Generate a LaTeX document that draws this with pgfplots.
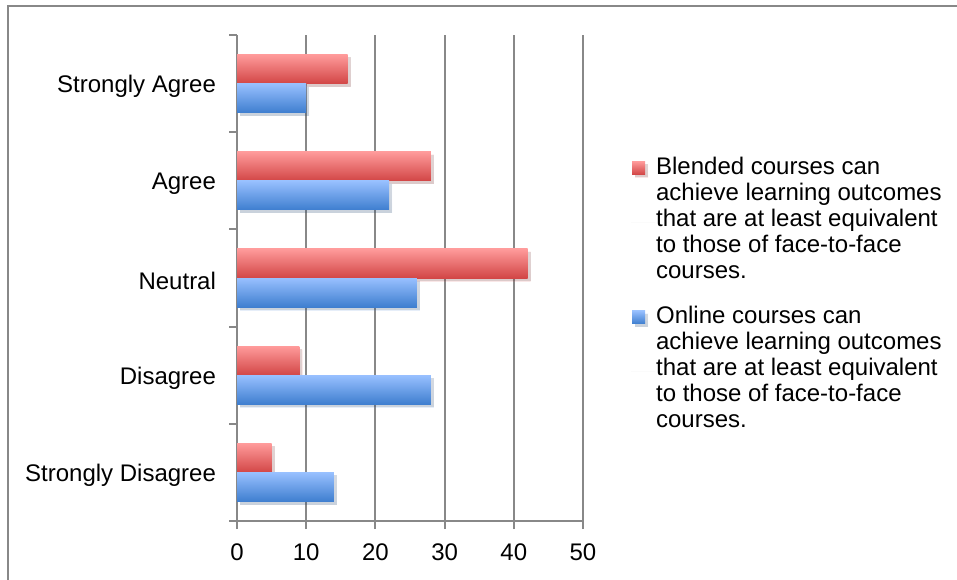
\documentclass[border=0pt]{standalone}
\usepackage{pgfplots}
\pgfplotsset{compat=1.18}
\usepackage{pgfplotstable}
\usepackage{fontspec}
\setmainfont{Liberation Sans}
\usetikzlibrary{shadows}

\definecolor{gridgray}{HTML}{888888}
\definecolor{redtop}{HTML}{FF9B9B}
\definecolor{redbot}{HTML}{D24646}
\definecolor{bluetop}{HTML}{98C0FF}
\definecolor{bluebot}{HTML}{3E7ECF}

% survey responses (count), 0 = Strongly Disagree ... 4 = Strongly Agree
\pgfplotstableread{
idx blended online
0   5       14
1   9       28
2   42      26
3   28      22
4   16      10
}\survey

\pgfplotsset{
  barshadow/.style={drop shadow={shadow xshift=1.5pt, shadow yshift=-1.5pt, fill=black, opacity=0.13}},
  redbar/.style={draw=none, top color=redtop, bottom color=redbot, bar shift=0.15, barshadow},
  bluebar/.style={draw=none, top color=bluetop, bottom color=bluebot, bar shift=-0.15, barshadow},
}

\begin{document}
\begin{tikzpicture}[font=\fontsize{12}{13}\selectfont]
\path[use as bounding box, clip] (0,0) rectangle (478.5pt,289.5pt);
\draw[gridgray, line width=1pt] (3.75pt,286.5pt) rectangle (520pt,-30pt);
\begin{axis}[
  at={(118.5pt,29pt)}, anchor=south west,
  scale only axis, width=173pt, height=243pt,
  xmin=0, xmax=50, ymin=-0.5, ymax=4.5,
  axis x line*=bottom, axis y line*=left,
  axis line style={gridgray, line width=1pt},
  xtick={0,10,...,50},
  ytick={0,...,4},
  yticklabels={Strongly Disagree, Disagree, Neutral, Agree, Strongly Agree},
  minor ytick={-0.5,0.5,...,4.5},
  tick align=outside,
  major tick length=4pt, minor tick length=4pt,
  major x tick style={gridgray, line width=1pt},
  major y tick style={draw=none},
  minor y tick style={gridgray, line width=1pt},
  xmajorgrids,
  major grid style={gridgray, line width=1pt},
  /pgf/number format/assume math mode=true,
  xticklabel style={yshift=-4pt},
  yticklabel style={xshift=-3pt, yshift=-1.5pt},
  xbar, bar width=0.3,
  legend style={draw=none, fill=none, at={(rel axis cs:1.112,0.766)}, anchor=north west,
    legend cell align=left, row sep=8.5pt, nodes={align=left, font=\fontsize{12}{13}\selectfont}},
]
% one path per bar, so that every bar gets its own top-to-bottom gradient
\addplot[redbar,
  legend image code/.code={\path (0pt,0pt) -- (12pt,0pt);
    \shade[top color=redtop, bottom color=redbot] (2pt,22.5pt) rectangle (8.5pt,29pt);}]
  table[x=blended, y=idx, restrict expr to domain={\coordindex}{0:0}]{\survey};
\addlegendentry{Blended courses can\\achieve learning outcomes\\that are at least equivalent\\to those of face-to-face\\courses.}
\addplot[bluebar,
  legend image code/.code={\path (0pt,0pt) -- (12pt,0pt);
    \shade[top color=bluetop, bottom color=bluebot] (2pt,22.5pt) rectangle (8.5pt,29pt);}]
  table[x=online, y=idx, restrict expr to domain={\coordindex}{0:0}]{\survey};
\addlegendentry{Online courses can\\achieve learning outcomes\\that are at least equivalent\\to those of face-to-face\\courses.}
\pgfplotsinvokeforeach{1,...,4}{
  \addplot[redbar, forget plot]
    table[x=blended, y=idx, restrict expr to domain={\coordindex}{#1:#1}]{\survey};
  \addplot[bluebar, forget plot]
    table[x=online, y=idx, restrict expr to domain={\coordindex}{#1:#1}]{\survey};
}
\end{axis}
\end{tikzpicture}
\end{document}
